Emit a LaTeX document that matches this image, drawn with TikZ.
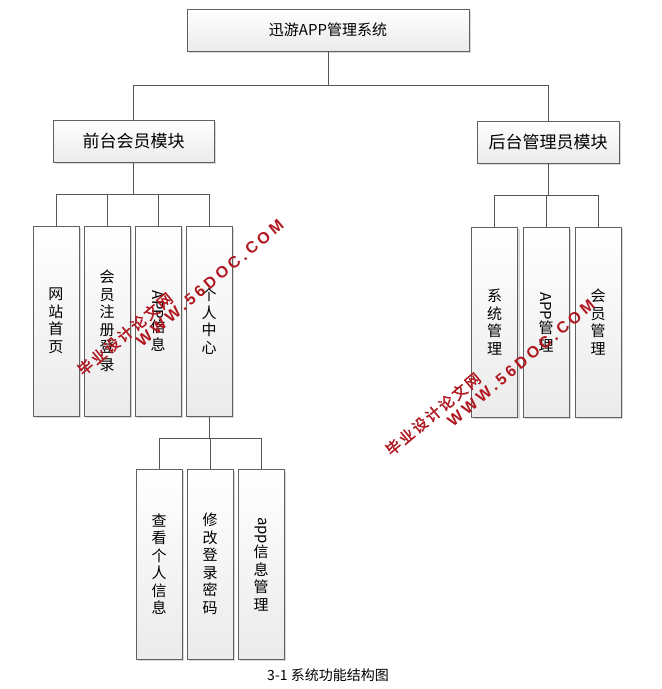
\documentclass[tikz,border=0pt]{standalone}
\usepackage{fontspec}
\setmainfont{Noto Sans CJK SC}
\newfontfamily\wmcjk[LetterSpace=15,FakeBold=2]{Noto Sans CJK SC}
\newfontfamily\wmlat[LetterSpace=22]{Liberation Sans}
\usetikzlibrary{shadows}
\definecolor{edgegray}{HTML}{606060}
\definecolor{wiregray}{HTML}{555555}
\definecolor{wmred}{HTML}{B0171F}
\tikzset{
  hbox/.style={draw=edgegray,line width=0.9pt,top color=white,bottom color=black!8,
    drop shadow={shadow xshift=2pt,shadow yshift=-2pt,opacity=0.25,fill=black!60},
    minimum height=42pt,inner sep=0pt,font=\fontsize{17}{20}\selectfont},
  vbox/.style={hbox,minimum width=46pt,minimum height=190pt,align=center,
    font=\fontsize{15}{17.5}\selectfont},
  wire/.style={draw=wiregray,line width=0.9pt},
  wmark/.style={text=wmred,rotate=40,inner sep=0pt}
}

\begin{document}
\begin{tikzpicture}[x=1pt,y=-1pt]
  \fill[white] (0,0) rectangle (662,689);
  \useasboundingbox (0,0) rectangle (662,689);
  \node[hbox,minimum width=282pt,font=\fontsize{15}{18}\selectfont] (sys) at (328,30) {迅游APP管理系统};
  \node[hbox,minimum width=161pt] (front) at (133.5,141) {前台会员模块};
  \node[hbox,minimum width=142pt] (back) at (548,142) {后台管理员模块};
  \node[vbox] (home) at (56,321) {网\\站\\首\\页};
  \node[vbox] (reg) at (107,321) {会\\员\\注\\册\\登\\录};
  \node[vbox] (appinfo) at (158,321) {\rotatebox{-90}{APP}\\信\\息};
  \node[vbox] (mine) at (209,321) {个\\人\\中\\心};
  \node[vbox] (sysm) at (494.5,322) {系\\统\\管\\理};
  \node[vbox] (appm) at (546,322) {\rotatebox{-90}{APP}\\管\\理};
  \node[vbox] (userm) at (598,322) {会\\员\\管\\理};
  \node[vbox] (view) at (159,564) {查\\看\\个\\人\\信\\息};
  \node[vbox] (pwd) at (210,564) {修\\改\\登\\录\\密\\码};
  \node[vbox] (appmng) at (261,564) {\rotatebox{-90}{app}\\信\\息\\管\\理};
  \coordinate (topbus) at (330,85);
  \coordinate (frontbus) at (133,194);
  \coordinate (backbus) at (548,195);
  \coordinate (minebus) at (210,438);
  \draw[wire] (sys.south) -- (sys.south |- topbus);
  \draw[wire] (sys.south |- topbus) -| (front.north);
  \draw[wire] (sys.south |- topbus) -| (back.north);
  \draw[wire] (front.south) -- (front.south |- frontbus);
  \draw[wire] (front.south |- frontbus) -| (home.north);
  \draw[wire] (front.south |- frontbus) -| (reg.north);
  \draw[wire] (front.south |- frontbus) -| (appinfo.north);
  \draw[wire] (front.south |- frontbus) -| (mine.north);
  \draw[wire] (back.south) -- (back.south |- backbus);
  \draw[wire] (back.south |- backbus) -| (sysm.north);
  \draw[wire] (back.south |- backbus) -| (appm.north);
  \draw[wire] (back.south |- backbus) -| (userm.north);
  \draw[wire] (mine.south) -- (mine.south |- minebus);
  \draw[wire] (mine.south |- minebus) -| (view.north);
  \draw[wire] (mine.south |- minebus) -| (pwd.north);
  \draw[wire] (mine.south |- minebus) -| (appmng.north);
  \node[font=\fontsize{14}{16}\selectfont] (cap) at (328,675) {3-1 系统功能结构图};
  \node[wmark,font=\wmcjk\fontsize{15}{15}\selectfont] (wm1a) at (125,334) {毕业设计论文网};
  \node[wmark,font=\wmlat\bfseries\fontsize{16}{16}\selectfont] (wm1b) at (210,283) {WWW.56DOC.COM};
  \node[wmark,font=\wmcjk\fontsize{15}{15}\selectfont] (wm2a) at (433,414) {毕业设计论文网};
  \node[wmark,font=\wmlat\bfseries\fontsize{16}{16}\selectfont] (wm2b) at (521,363) {WWW.56DOC.COM};
\end{tikzpicture}
\end{document}
